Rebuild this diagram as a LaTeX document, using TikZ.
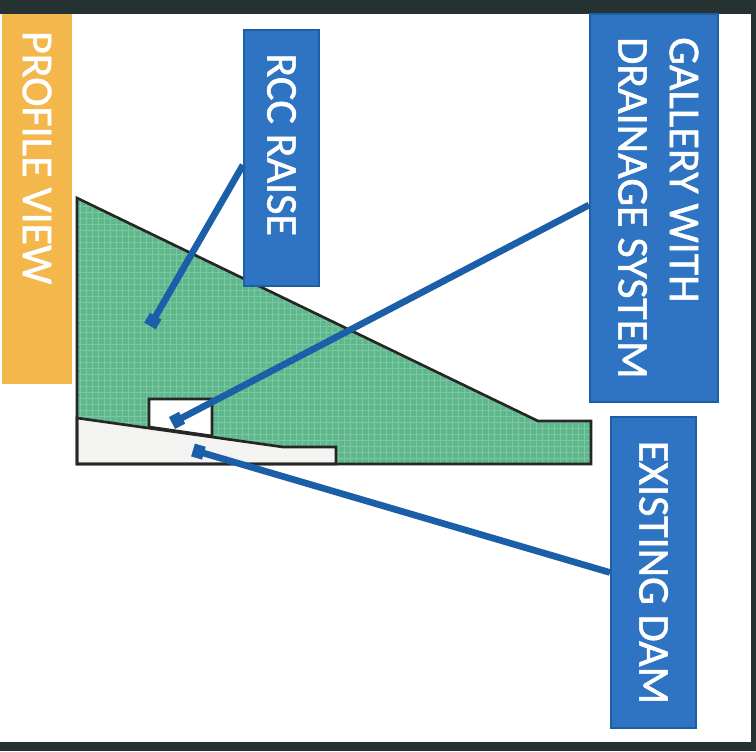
\documentclass[tikz,border=0pt]{standalone}
\usepackage{fontspec}
\setmainfont[FakeBold=1.2]{Carlito}
\usetikzlibrary{arrows.meta,calc}
\definecolor{frameDark}{HTML}{263232}
\definecolor{damGreen}{HTML}{5FB88C}
\definecolor{gridGreen}{HTML}{7CC7A2}
\definecolor{oldDam}{HTML}{F3F4F1}
\definecolor{labelBlue}{HTML}{2E74C2}
\definecolor{lineBlue}{HTML}{1A5FA8}
\definecolor{tabOrange}{HTML}{F3B74C}
\tikzset{
  x=0.75pt,y=-0.75pt,
  labelbox/.style={fill=labelBlue,draw=lineBlue,line width=1.5pt,inner sep=0pt,align=center,text=white,font=\fontsize{33}{37}\selectfont},
  tabbox/.style={fill=tabOrange,inner sep=0pt,text=white,font=\fontsize{33}{37}\selectfont},
  pointer/.style={draw=lineBlue,line width=5pt,-{Square[length=8.5pt,width=10pt]}},
  outline/.style={draw=black!85,line width=2pt,line join=miter}
}
\begin{document}
\begin{tikzpicture}
\useasboundingbox (0,0) rectangle (756,751);
\fill[white] (0,0) rectangle (756,751);
% photographed page edge
\fill[frameDark] (0,0) rectangle (756,14);
\fill[frameDark] (0,742) rectangle (756,751);
\fill[frameDark] (751,0) rectangle (756,751);
% RCC raise body with its printed dot grid
\fill[damGreen] (77,198) -- (538,421) -- (591,421) -- (591,464) -- (77,464) -- cycle;
\begin{scope}
  \clip (77,198) -- (538,421) -- (591,421) -- (591,464) -- (77,464) -- cycle;
  \foreach \gx in {80,86,...,590} \draw[gridGreen,line width=0.6pt] (\gx,190) -- (\gx,470);
  \foreach \gy in {200,206,...,464} \draw[gridGreen,line width=0.6pt] (70,\gy) -- (595,\gy);
\end{scope}
% existing dam
\draw[outline,fill=oldDam] (77,418) -- (283,447) -- (336,447) -- (336,464) -- (77,464) -- cycle;
% gallery
\draw[outline,fill=white] (149,427) -- (149,399) -- (212,399) -- (212,436) -- cycle;
\draw[outline] (77,198) -- (538,421) -- (591,421) -- (591,464) -- (77,464) -- cycle;
% labels
\node[tabbox,minimum width=70*0.75pt,minimum height=370*0.75pt] (tab) at (37,199)
  {\rotatebox{-90}{PROFILE VIEW\hspace{62pt}}};
\node[labelbox,minimum width=75*0.75pt,minimum height=256*0.75pt] (rcc) at (281.5,158)
  {\rotatebox{-90}{RCC RAISE\hspace{20pt}}};
\node[labelbox,minimum width=128*0.75pt,minimum height=388*0.75pt] (gal) at (654,208)
  {\rotatebox{-90}{\begin{tabular}{@{}l@{}}GALLERY WITH\\[1.5pt]DRAINAGE SYSTEM\end{tabular}}};
\node[labelbox,minimum width=85*0.75pt,minimum height=311*0.75pt] (old) at (653.5,572.5)
  {\rotatebox{-90}{EXISTING DAM}};
% pointer ends
\coordinate (rccEnd) at (150,326);
\coordinate (galEnd) at (172,423);
\coordinate (oldEnd) at (193,450);
\draw[pointer] ($(rcc.west)+(0,7)$) -- (rccEnd);
\draw[pointer] ($(gal.west)+(0,-3)$) -- (galEnd);
\draw[pointer] (old.west) -- (oldEnd);
\end{tikzpicture}
\end{document}
